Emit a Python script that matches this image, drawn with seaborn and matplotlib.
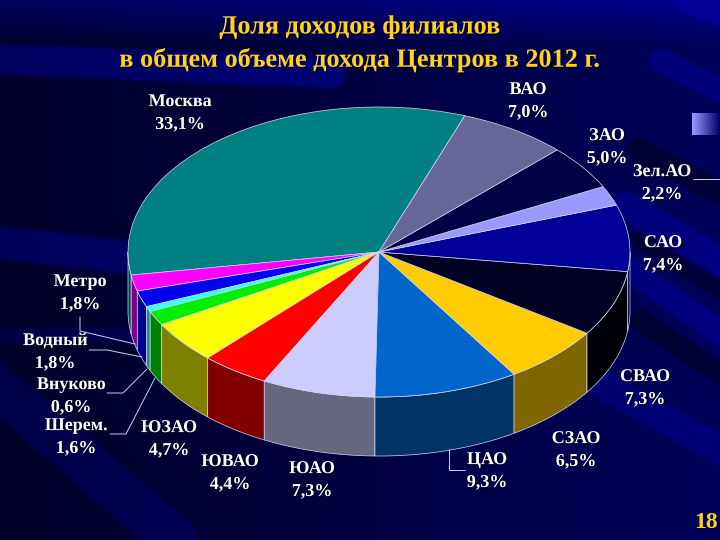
import numpy as np
import matplotlib
matplotlib.use("Agg")
import matplotlib.pyplot as plt
import matplotlib.patheffects as pe
import seaborn as sns

# данные диаграммы
names = ["Москва", "Метро", "Водный", "Внуково", "Шерем.", "ЮЗАО", "ЮВАО", "ЮАО",
         "ЦАО", "СЗАО", "СВАО", "САО", "Зел.АО", "ЗАО", "ВАО"]
values = [33.1, 1.8, 1.8, 0.6, 1.6, 4.7, 4.4, 7.3, 9.3, 6.5, 7.3, 7.4, 2.2, 5.0, 7.0]
top_colors = ["#008080", "#FF00FF", "#0000EE", "#33FFFF", "#00EE00", "#FFFF00", "#FF0000", "#CCCCFF",
              "#0066CC", "#FFCC00", "#000022", "#000099", "#9999FF", "#000044", "#666699"]
side_colors = ["#004C60", "#800080", "#000090", "#1A9090", "#008000", "#808000", "#800000", "#666680",
               "#003366", "#806600", "#000008", "#00003A", "#4D4D80", "#000022", "#333350"]
label_pos = [(180, 113), (80, 293), (55, 352), (71, 396), (76, 437), (169, 439), (230, 473), (312, 480),
             (487, 471), (576, 450), (645, 388), (663, 254), (662, 183), (607, 147), (528, 101)]
title_lines = ["Доля доходов филиалов", "в общем объеме дохода Центров в 2012 г."]
page_number = "18"
leaders = [[(80, 317), (80, 331), (135, 344)],
           [(89, 350), (107, 350), (142, 357)],
           [(107, 393), (123, 393), (147, 369)],
           [(110, 434), (126, 434), (155, 378)],
           [(449, 449), (449, 470), (465, 470)],
           [(693, 179), (720, 179)]]

sns.set_theme(style="white")
plt.rcParams["font.family"] = ["Liberation Serif", "DejaVu Serif"]

fig = plt.figure(figsize=(7.2, 5.4), dpi=100)
bg = fig.add_axes([0, 0, 1, 1])
bg.set_xlim(0, 720)
bg.set_ylim(540, 0)
bg.axis("off")

# фон слайда: темный градиент и размытые полосы
yy, xx = np.mgrid[0:540, 0:720]


def band(x0, y0, x1, y1, w, gain):
    dx, dy = x1 - x0, y1 - y0
    t = np.clip(((xx - x0) * dx + (yy - y0) * dy) / (dx * dx + dy * dy), 0, 1)
    d = np.hypot(xx - x0 - t * dx, yy - y0 - t * dy)
    return gain * np.clip((w - d) / 5, 0, 1)


blue = 40 + 50 * xx / 720 + 55 * np.clip(1 - yy / 45, 0, 1)
blue += band(-20, 58, 330, 72, 18, 55)
blue += band(-20, 240, 170, 262, 19, 50)
blue += band(-20, 335, 150, 335, 10, 28)
blue += band(-20, 372, 175, 540, 25, 30)
for seg in [(660, 60, 760, 110, 14, 35), (625, 205, 760, 285, 17, 40),
            (630, 270, 760, 360, 15, 40), (598, 382, 760, 472, 17, 30), (690, 0, 760, 30, 16, 25)]:
    blue += band(*seg)
for seg in [(640, 150, 760, 215, 14, -35), (640, 240, 760, 315, 11, -30), (640, 320, 760, 400, 13, -35)]:
    blue += band(*seg)
blue = np.clip(blue, 0, 150) / 255
raster = np.dstack([np.zeros_like(blue), np.zeros_like(blue), blue])
bg.imshow(raster, extent=(0, 720, 540, 0), aspect="auto", zorder=0)

# градиентный кусочек у правого края
chip = np.linspace(0, 1, 28)[None, :, None] * np.array([0.0, 0.0, 0.4])[None, None, :] \
    + (1 - np.linspace(0, 1, 28))[None, :, None] * np.array([0.6, 0.6, 1.0])[None, None, :]
bg.imshow(chip, extent=(692, 720, 135, 113), aspect="auto", zorder=1)
bg.set_xlim(0, 720)
bg.set_ylim(540, 0)

# псевдо-3D круг: эллипс + боковая стенка
ax = fig.add_axes([128 / 720, 1 - 397 / 540, 502 / 720, 290 / 540])
ax.patch.set_alpha(0)
start = 70.0
depth = 59 / 145
edge = "#D8D8F0"
shares = np.array(values) / np.sum(values) * 360
angle = start
for share, col in zip(shares, side_colors):
    lo, hi = max(angle, 180), min(angle + share, 360)
    if hi > lo:
        t = np.radians(np.linspace(lo, hi, 60))
        px = np.r_[np.cos(t), np.cos(t)[::-1]]
        py = np.r_[np.sin(t), np.sin(t)[::-1] - depth]
        ax.fill(px, py, facecolor=col, edgecolor=edge, linewidth=0.5, clip_on=False)
    angle += share
wedges, _ = ax.pie(values, startangle=start, colors=sns.color_palette(top_colors), radius=1,
                   wedgeprops=dict(edgecolor=edge, linewidth=0.5))
for w in wedges:
    w.set_clip_on(False)
ax.set_aspect("auto")
ax.set_xlim(-1, 1)
ax.set_ylim(-1, 1)
ax.axis("off")

# подписи
shadow = [pe.SimplePatchShadow(offset=(1.2, -1.2), shadow_rgbFace="#000020", alpha=0.9), pe.Normal()]
top = fig.add_axes([0, 0, 1, 1])
top.set_xlim(0, 720)
top.set_ylim(540, 0)
top.axis("off")
top.patch.set_alpha(0)
for (x, y), line in zip([(360, 27), (360, 60)], title_lines):
    top.text(x, y, line, color="#FFD21E", fontsize=18.9, fontweight="bold", ha="center", va="center",
             path_effects=shadow)
for name, val, (x, y) in zip(names, values, label_pos):
    txt = name + "\n" + f"{val:.1f}".replace(".", ",") + "%"
    top.text(x, y, txt, color="white", fontsize=13, fontweight="bold", ha="center", va="center",
             linespacing=1.45, path_effects=shadow)
for pts in leaders:
    xs, ys = zip(*pts)
    top.plot(xs, ys, color="#D0D0F0", lw=0.7)
top.text(706, 522, page_number, color="#FFD21E", fontsize=17, fontweight="bold", ha="center", va="center")

fig.savefig("out.png", dpi=100)
